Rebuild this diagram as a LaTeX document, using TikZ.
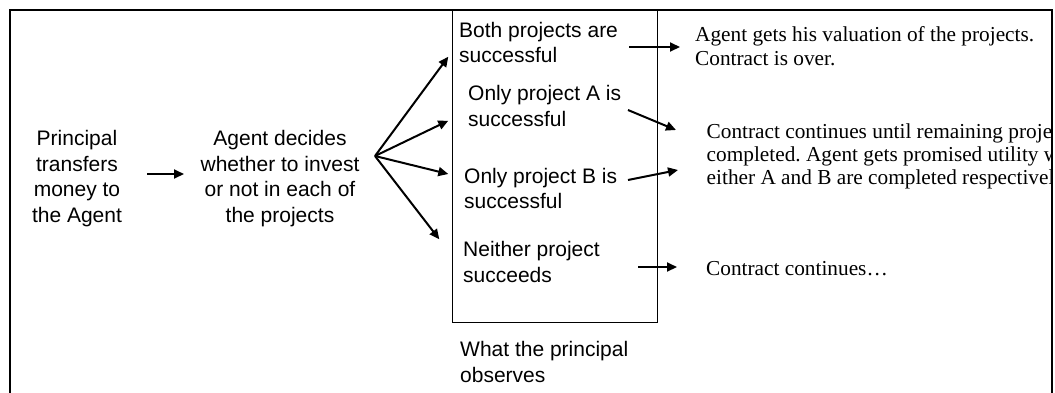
\documentclass[tikz,border=0pt]{standalone}
\usepackage{fontspec}
\setmainfont{Liberation Serif}
\newfontfamily\arialish{Liberation Sans}
\usetikzlibrary{arrows.meta}
\frenchspacing

\begin{document}
\begin{tikzpicture}[x=1bp,y=-1bp,
  sans/.style={font=\arialish\fontsize{21bp}{25.4bp}\selectfont, inner sep=0pt},
  sansleft/.style={sans, align=left, anchor=base west},
  sanscenter/.style={sans, align=center, anchor=base},
  serif/.style={font=\fontsize{21.3bp}{23.2bp}\selectfont, inner sep=0pt, align=left, anchor=base west},
  arr/.style={line width=2bp, -{Triangle[length=10bp,width=9bp]}},
  frameline/.style={line width=2bp},
  obsbox/.style={draw, line width=1.2bp, inner sep=0pt, anchor=north west,
                 minimum width=205bp, minimum height=312bp}
]
\useasboundingbox (0,0) rectangle (1055,392);

% outer frame (runs off the bottom of the page)
\draw[frameline] (10,400) -- (10,10) -- (1052,10) -- (1052,400);

% box of observable outcomes
\node[obsbox] (obs) at (452,10) {};

% sequence of moves (positioned by the baseline of the last line)
\node[sanscenter] (principal) at (77,222) {Principal\\transfers\\money to\\the Agent};
\node[sanscenter] (decide) at (280,222) {Agent decides\\whether to invest\\or not in each of\\the projects};

% outcomes
\node[sansleft] (both)    at (459,62.7) {Both projects are\\successful};
\node[sansleft] (onlyA)   at (468,126)  {Only project A is\\successful};
\node[sansleft] (onlyB)   at (464,208.5){Only project B is\\successful};
\node[sansleft] (neither) at (463,282)  {Neither project\\succeeds};
\node[sansleft] (what)    at (460,382)  {What the principal\\observes};

% consequences
\node[serif] (over) at (695,65) {Agent gets his valuation of the projects.\\Contract is over.};
\begin{scope}
  \clip (10,10) rectangle (1051,392);
  \node[serif] (cont) at (706.5,184.5) {Contract continues until remaining projects are\\completed. Agent gets promised utility when\\either A and B are completed respectively.};
\end{scope}
\node[serif] (contnone) at (706,275) {Contract continues…};

% arrow end points
\coordinate (p1) at (147,174);
\coordinate (p2) at (184,174);
\coordinate (fan) at (375,156);
\coordinate (f1) at (448.3,56.7);
\coordinate (f2) at (448.3,120.7);
\coordinate (f3) at (448.3,174);
\coordinate (f4) at (439.3,239.3);
\coordinate (r1s) at (629,47);
\coordinate (r1e) at (680,47);
\coordinate (r2s) at (628,110);
\coordinate (r2e) at (676,130);
\coordinate (r3s) at (628,180);
\coordinate (r3e) at (678,170);
\coordinate (r4s) at (638,267);
\coordinate (r4e) at (677,267);

\draw[arr] (p1) -- (p2);
\foreach \t in {f1,f2,f3,f4} \draw[arr] (fan) -- (\t);
\draw[arr] (r1s) -- (r1e);
\draw[arr] (r2s) -- (r2e);
\draw[arr] (r3s) -- (r3e);
\draw[arr] (r4s) -- (r4e);
\end{tikzpicture}
\end{document}
